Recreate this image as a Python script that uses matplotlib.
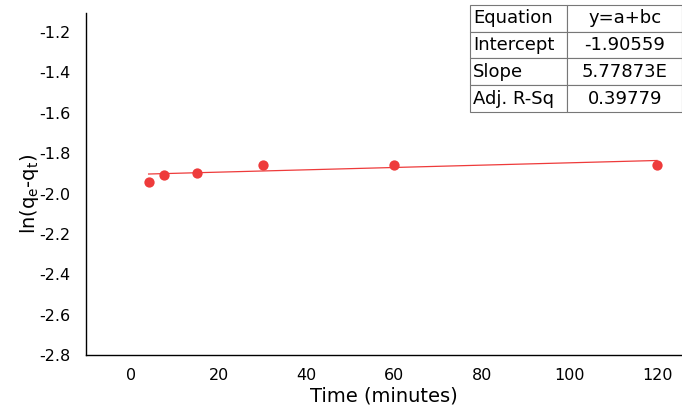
import matplotlib.pyplot as plt

plt.rcParams['font.family'] = ['DejaVu Sans']
plt.rcParams['mathtext.fontset'] = 'dejavusans'

# kinetics data: time vs ln(qe - qt)
time_min = [4, 7.5, 15, 30, 60, 120]
ln_qe_qt = [-1.943, -1.908, -1.899, -1.859, -1.859, -1.859]

# linear fit results
intercept = -1.90559
slope = 5.77873e-4
fit_rows = ['Equation', 'Intercept', 'Slope', 'Adj. R-Sq']
fit_vals = ['y=a+bc', '-1.90559', '5.77873E', '0.39779']

y_ticks = [-2.8, -2.6, -2.4, -2.2, -2.0, -1.8, -1.6, -1.4, -1.2]
x_ticks = [0, 20, 40, 60, 80, 100, 120]

fig = plt.figure(figsize=(6.82, 4.09), dpi=100)
ax = fig.add_axes([0.126, 0.132, 0.874, 0.836])

red = '#EE3B3B'
ax.scatter(time_min, ln_qe_qt, s=55, color=red, zorder=3, linewidths=0)
fit_x = [time_min[0], time_min[-1]]
fit_y = [intercept + slope * x for x in fit_x]
ax.plot(fit_x, fit_y, color=red, lw=0.9, zorder=2)

ax.set_xlim(-10.3, 125.7)
ax.set_ylim(-2.8, -1.106)
ax.set_xticks(x_ticks)
ax.set_yticks(y_ticks)
ax.set_yticklabels([f'{v:.1f}' for v in y_ticks])
ax.tick_params(length=0, labelsize=11.5)
ax.tick_params(axis='x', pad=9)
ax.tick_params(axis='y', pad=11)
for s in ['top', 'right']:
    ax.spines[s].set_visible(False)
for s in ['left', 'bottom']:
    ax.spines[s].set_linewidth(1.0)

ax.set_xlabel('Time (minutes)', fontsize=14, labelpad=3)
ax.set_ylabel(r'ln(q$_\mathrm{e}$-q$_\mathrm{t}$)', fontsize=14, labelpad=2)
ax.yaxis.set_label_coords(-0.075, 0.47)

# fit summary table in the top right corner
tax = fig.add_axes([0.689, 0.726, 0.311, 0.262])
tax.axis('off')
tbl = tax.table(cellText=[[r, v] for r, v in zip(fit_rows, fit_vals)],
                bbox=[0, 0, 1, 1], colWidths=[0.46, 0.54])
tbl.auto_set_font_size(False)
for (r, c), cell in tbl.get_celld().items():
    cell.set_edgecolor('#777777')
    cell.set_linewidth(0.8)
    cell.get_text().set_fontsize(13)
    if c == 0:
        cell.get_text().set_ha('left')
        cell.PAD = 0.03
    else:
        cell.get_text().set_ha('center')

fig.savefig('out.png', dpi=100)
